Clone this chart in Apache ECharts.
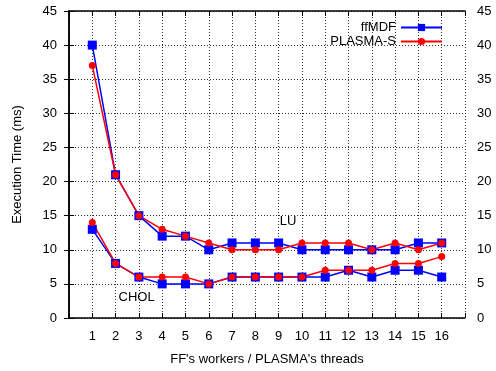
<!DOCTYPE html>
<html><head><meta charset="utf-8">
<script src="https://cdn.jsdelivr.net/npm/echarts@6/dist/echarts.min.js"></script>
<style>html,body{margin:0;padding:0;background:#fff}#c{width:496px;height:371px}</style>
</head><body><div id="c"></div>
<script>
var threads = [1,2,3,4,5,6,7,8,9,10,11,12,13,14,15,16];
var ffLU     = [40,21,15,12,12,10,11,11,11,10,10,10,10,10,11,11];
var plasmaLU = [37,21,15,13,12,11,10,10,10,11,11,11,10,11,10,11];
var ffCHOL     = [13,8,6,5,5,5,6,6,6,6,6,7,6,7,7,6];
var plasmaCHOL = [14,8,6,6,6,5,6,6,6,6,7,7,7,8,8,9];
var yTicks = [0,5,10,15,20,25,30,35,40,45];
var annotations = [{text:'LU', x:9.4, y:14.2},{text:'CHOL', x:2.9, y:3.0}];

function pairs(v){ return threads.map(function(t,i){return [t,v[i]];}); }
var font = 'Liberation Sans, Arial, sans-serif';
var grid = {type:[1,2], color:'#333', width:1};
var chart = echarts.init(document.getElementById('c'));
function mk(name, data, color, sym, size){
  return {name:name, type:'line', data:pairs(data), symbol:sym, symbolSize:size,
    lineStyle:{color:color,width:1.5}, itemStyle:{color:color}, animation:false, z:3};
}
var yCommon = {type:'value', min:0, max:45, interval:5,
  axisLine:{show:true,lineStyle:{color:'#000',width:1.5}},
  axisTick:{show:true,inside:true,length:5,lineStyle:{color:'#000'}},
  axisLabel:{color:'#000',fontSize:13,fontFamily:font}};
function leg(name, top){
  return {right:48, top:top, orient:'vertical', align:'right', itemWidth:41, itemHeight:9, itemGap:0,
    textStyle:{color:'#000',fontSize:13,fontFamily:font}, data:[name]};
}
chart.setOption({
  animation:false,
  grid:{left:69,right:31,top:11,bottom:49},
  legend:[leg('ffMDF',16), leg('PLASMA-S',30)],
  xAxis:[{type:'value', min:0, max:17, interval:1,
    axisLine:{show:true,lineStyle:{color:'#000',width:1.5}},
    axisTick:{show:true,inside:true,length:5,lineStyle:{color:'#000'}},
    axisLabel:{color:'#000',fontSize:13,fontFamily:font,margin:12,
      formatter:function(v){return (v>=1&&v<=16)?String(v):'';}},
    splitLine:{show:true,lineStyle:grid},
    name:"FF's workers / PLASMA's threads", nameLocation:'middle', nameGap:35,
    nameTextStyle:{color:'#000',fontSize:13,fontFamily:font}},
   {type:'value', position:'top', min:0, max:17, interval:1,
    axisLine:{show:true,onZero:false,lineStyle:{color:'#000',width:1.5}},
    axisTick:{show:true,inside:true,length:5,lineStyle:{color:'#000'}},
    axisLabel:{show:false}, splitLine:{show:false}}],
  yAxis:[Object.assign({}, yCommon, {position:'left',
      splitLine:{show:true,lineStyle:grid},
      axisLabel:{color:'#000',fontSize:13,fontFamily:font,margin:12},
      name:'Execution Time (ms)', nameLocation:'middle', nameGap:45,
      nameTextStyle:{color:'#000',fontSize:13,fontFamily:font}}),
    Object.assign({}, yCommon, {position:'right', splitLine:{show:false},
      axisLabel:{color:'#000',fontSize:13,fontFamily:font,margin:12}})],
  series:[
    mk('ffMDF', ffLU, '#0000ff', 'rect', 9),
    mk('PLASMA-S', plasmaLU, '#ff0000', 'circle', 7),
    mk('ffMDF', ffCHOL, '#0000ff', 'rect', 9),
    mk('PLASMA-S', plasmaCHOL, '#ff0000', 'circle', 7)
  ]
});
var g = annotations.map(function(a){
  var p = chart.convertToPixel({xAxisIndex:0,yAxisIndex:0},[a.x,a.y]);
  return {type:'text', x:p[0], y:p[1], style:{text:a.text, fill:'#000', font:'13px '+font, align:'center', verticalAlign:'middle'}, z:10};
});
chart.setOption({graphic:g});
</script></body></html>
